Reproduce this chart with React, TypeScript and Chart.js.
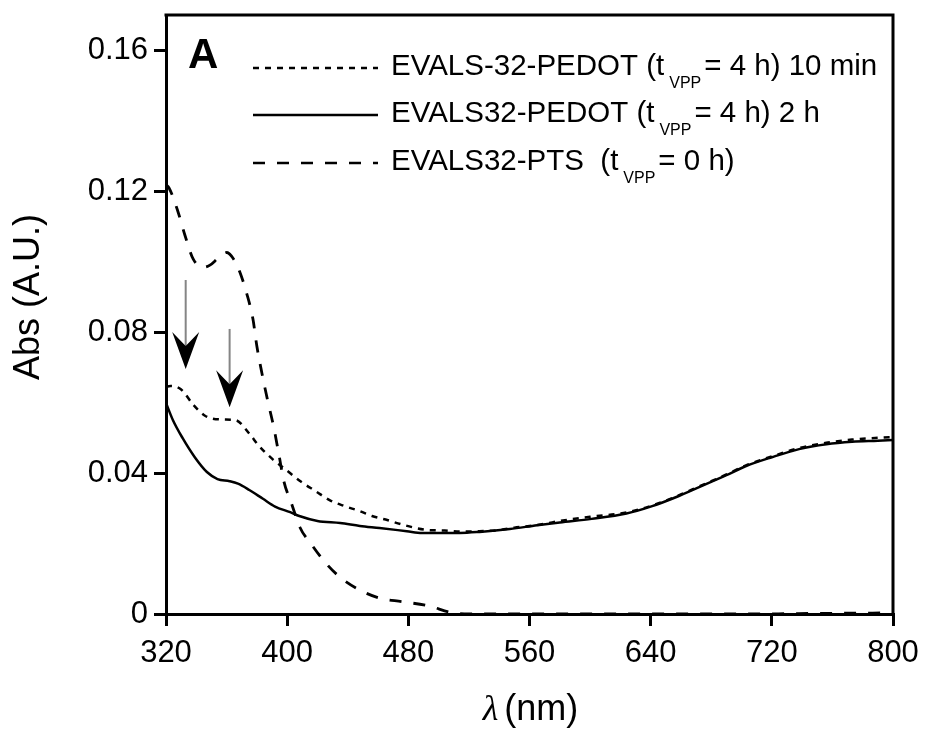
import React, { useEffect, useRef } from 'react';
import { Chart, registerables } from 'chart.js';

Chart.register(...registerables);

const FONT = '"Liberation Sans", Arial, Helvetica, sans-serif';

// ---- axes ----
const xTicks = [320, 400, 480, 560, 640, 720, 800];
const yTicks = [0, 0.04, 0.08, 0.12, 0.16];
const yTickLabels = ['0', '0.04', '0.08', '0.12', '0.16'];
const xRange = [320, 800];
const yRange = [0, 0.17];

// ---- series: EVALS-32-PEDOT (tVPP = 4 h) 10 min (dotted) ----
const min10Wl = [320, 323, 330, 338, 346, 357, 366, 375, 381, 390, 399, 409, 419, 428, 438, 448, 456, 465, 475, 484, 494, 504, 514, 527, 540, 550, 560, 570, 580, 600, 624, 641, 657, 672, 690, 703, 720, 738, 756, 773, 790, 800];
const min10Abs = [0.0645, 0.0647, 0.0637, 0.0594, 0.0562, 0.0552, 0.055, 0.0512, 0.0479, 0.0441, 0.041, 0.0376, 0.0348, 0.0323, 0.0306, 0.0292, 0.0278, 0.0268, 0.0255, 0.0245, 0.0238, 0.0237, 0.0234, 0.0235, 0.0238, 0.0245, 0.025, 0.0256, 0.0264, 0.0276, 0.0288, 0.0308, 0.0334, 0.0362, 0.0396, 0.0422, 0.0447, 0.0471, 0.0486, 0.0495, 0.05, 0.0502];

// ---- series: EVALS32-PEDOT (tVPP = 4 h) 2 h (solid) ----
const h2Wl = [320, 324.6, 331, 339, 347, 354, 362, 367.5, 375, 384, 392, 402, 408, 420, 435, 448, 461, 479, 489, 514, 527, 547, 565, 580, 601, 624, 641, 657, 672, 690, 703, 720, 738, 756, 773, 790, 800];
const h2Abs = [0.0599, 0.055, 0.0499, 0.0445, 0.0403, 0.0383, 0.0377, 0.037, 0.0352, 0.0327, 0.0305, 0.0289, 0.0278, 0.0264, 0.0258, 0.025, 0.0244, 0.0235, 0.023, 0.023, 0.0233, 0.0241, 0.0252, 0.026, 0.027, 0.0285, 0.0306, 0.0332, 0.036, 0.0394, 0.042, 0.0445, 0.0468, 0.0482, 0.0489, 0.0492, 0.0494];

// ---- series: EVALS32-PTS (tVPP = 0 h) (dashed) ----
const ptsWl = [320, 322, 327.6, 332.5, 338, 345, 349, 355, 360.2, 365, 368.8, 373.4, 377.4, 380, 383.3, 386.9, 391, 394.5, 397.8, 403, 408.3, 416.3, 424.8, 434.7, 446.6, 461, 476, 493.4, 508.6, 520, 600, 700, 760, 800];
const ptsAbs = [0.1218, 0.1209, 0.1146, 0.1075, 0.1007, 0.0984, 0.099, 0.1012, 0.1026, 0.1005, 0.097, 0.0908, 0.0837, 0.076, 0.0684, 0.061, 0.0533, 0.0454, 0.0377, 0.0312, 0.0247, 0.0196, 0.0148, 0.0105, 0.0071, 0.0045, 0.0035, 0.0023, 0.0004, 0, 0, 0, 0.0002, 0.0003];

// ---- legend text (main, subscript, rest) ----
const legendPre = ['EVALS-32-PEDOT (t', 'EVALS32-PEDOT (t', 'EVALS32-PTS  (t'];
const legendSub = ['VPP', 'VPP', 'VPP'];
const legendPost = ['= 4 h) 10 min', '= 4 h) 2 h', '= 0 h)'];
const seriesLabels = legendPre.map((p, i) => p + legendSub[i] + ' ' + legendPost[i]);

// ---- arrows (data units) ----
const arrowWl = [333, 362];
const arrowFrom = [0.0948, 0.0809];
const arrowTo = [0.0695, 0.0587];

const panelLabel = 'A';
const xTitleSymbol = 'λ';
const xTitleText = '(nm)';
const yTitle = 'Abs (A.U.)';

const DOTTED = [6, 6];
const DASHED = [12, 12];
const dashes = [DOTTED, [], DASHED];

const decorPlugin = {
  id: 'decor',
  afterDraw(chart: any) {
    const { ctx, chartArea: ca, scales } = chart;
    const xs = scales.x;
    const ys = scales.y;
    ctx.save();
    // frame top + right
    ctx.strokeStyle = '#000';
    ctx.lineWidth = 3;
    ctx.setLineDash([]);
    ctx.beginPath();
    ctx.moveTo(ca.left - 1.5, ca.top);
    ctx.lineTo(ca.right, ca.top);
    ctx.lineTo(ca.right, ca.bottom);
    ctx.stroke();

    // arrows
    for (let i = 0; i < arrowWl.length; i++) {
      const x = xs.getPixelForValue(arrowWl[i]);
      const y0 = ys.getPixelForValue(arrowFrom[i]);
      const y1 = ys.getPixelForValue(arrowTo[i]);
      const h = 37, hw = 13.5, notch = 23;
      ctx.strokeStyle = '#858585';
      ctx.lineWidth = 2;
      ctx.beginPath();
      ctx.moveTo(x, y0);
      ctx.lineTo(x, y1 - notch + 2);
      ctx.stroke();
      ctx.fillStyle = '#000';
      ctx.beginPath();
      ctx.moveTo(x, y1);
      ctx.lineTo(x - hw, y1 - h);
      ctx.lineTo(x, y1 - notch);
      ctx.lineTo(x + hw, y1 - h);
      ctx.closePath();
      ctx.fill();
    }

    // panel label
    ctx.fillStyle = '#000';
    ctx.textBaseline = 'alphabetic';
    ctx.textAlign = 'left';
    ctx.font = `bold 42px ${FONT}`;
    ctx.fillText(panelLabel, ca.left + 22, ca.top + 53);

    // legend
    const lx0 = 253, lx1 = 378, tx = 391;
    const bases = [75, 122, 170];
    for (let i = 0; i < 3; i++) {
      const b = bases[i];
      ctx.strokeStyle = '#000';
      ctx.lineWidth = 2.5;
      ctx.setLineDash(dashes[i]);
      ctx.beginPath();
      ctx.moveTo(lx0, b - 7);
      ctx.lineTo(lx1, b - 7);
      ctx.stroke();
      ctx.setLineDash([]);
      let x = tx;
      ctx.font = `29.5px ${FONT}`;
      ctx.fillText(legendPre[i], x, b);
      x += ctx.measureText(legendPre[i]).width + 5;
      ctx.font = `16px ${FONT}`;
      ctx.fillText(legendSub[i], x, b + 13);
      x += ctx.measureText(legendSub[i]).width + 3;
      ctx.font = `29.5px ${FONT}`;
      ctx.fillText(legendPost[i], x, b);
    }

    // y title
    ctx.save();
    ctx.translate(29, 297);
    ctx.rotate(-Math.PI / 2);
    ctx.textAlign = 'center';
    ctx.textBaseline = 'middle';
    ctx.font = `36px ${FONT}`;
    ctx.fillText(yTitle, 0, 0);
    ctx.restore();

    // x title
    const cx = (ca.left + ca.right) / 2;
    ctx.textAlign = 'left';
    ctx.textBaseline = 'alphabetic';
    ctx.font = `italic 36px "Liberation Serif", "DejaVu Serif", serif`;
    const wl = ctx.measureText(xTitleSymbol).width;
    ctx.font = `36px ${FONT}`;
    const wn = ctx.measureText(xTitleText).width;
    const gap = 6;
    const start = cx - (wl + gap + wn) / 2 + 1;
    const by = 720;
    ctx.font = `italic 36px "Liberation Serif", "DejaVu Serif", serif`;
    ctx.fillText(xTitleSymbol, start, by);
    ctx.font = `36px ${FONT}`;
    ctx.fillText(xTitleText, start + wl + gap, by);
    ctx.restore();
  },
};

export default function App() {
  const ref = useRef<HTMLCanvasElement>(null);
  useEffect(() => {
    if (!ref.current) return;
    const mk = (xsArr: number[], ysArr: number[]) => xsArr.map((x, i) => ({ x, y: ysArr[i] }));
    const chart = new Chart(ref.current, {
      type: 'line',
      data: {
        datasets: [
          { label: seriesLabels[0], data: mk(min10Wl, min10Abs), borderColor: '#000', borderWidth: 2.5, borderDash: DOTTED, pointRadius: 0, cubicInterpolationMode: 'monotone', fill: false },
          { label: seriesLabels[1], data: mk(h2Wl, h2Abs), borderColor: '#000', borderWidth: 2.5, pointRadius: 0, cubicInterpolationMode: 'monotone', fill: false },
          { label: seriesLabels[2], data: mk(ptsWl, ptsAbs), borderColor: '#000', borderWidth: 2.8, borderDash: DASHED, pointRadius: 0, cubicInterpolationMode: 'monotone', fill: false },
        ],
      },
      options: {
        animation: false,
        responsive: false,
        events: [],
        layout: { padding: { top: 15, right: 35, left: 0, bottom: 0 }, autoPadding: false },
        plugins: { legend: { display: false }, tooltip: { enabled: false } },
        scales: {
          x: {
            type: 'linear',
            min: xRange[0],
            max: xRange[1],
            afterBuildTicks: (s: any) => { s.ticks = xTicks.map((v) => ({ value: v })); },
            afterFit: (s: any) => { s.height = 122; s.paddingLeft = 0; s.paddingRight = 0; },
            grid: { drawOnChartArea: false, drawTicks: true, tickLength: 12, lineWidth: 3, color: '#000' },
            border: { display: true, width: 3, color: '#000' },
            ticks: { color: '#000', font: { family: FONT, size: 31 }, padding: 9, maxRotation: 0, autoSkip: false, callback: (v: any) => String(v) },
          },
          y: {
            type: 'linear',
            min: yRange[0],
            max: yRange[1],
            afterBuildTicks: (s: any) => { s.ticks = yTicks.map((v) => ({ value: v })); },
            afterFit: (s: any) => { s.width = 166; s.paddingTop = 0; s.paddingBottom = 0; },
            grid: { drawOnChartArea: false, drawTicks: true, tickLength: 12, lineWidth: 3, color: '#000' },
            border: { display: true, width: 3, color: '#000' },
            ticks: {
              color: '#000', font: { family: FONT, size: 31 }, padding: 6, autoSkip: false,
              callback: (v: any) => { const i = yTicks.findIndex((t) => Math.abs(t - v) < 1e-9); return i >= 0 ? yTickLabels[i] : ''; },
            },
          },
        },
      },
      plugins: [decorPlugin],
    } as any);
    return () => chart.destroy();
  }, []);
  return (
    <div style={{ position: 'fixed', left: 0, top: 0, width: 928, height: 736, background: '#fff' }}>
      <canvas ref={ref} width={928} height={736} style={{ display: 'block' }} />
    </div>
  );
}
